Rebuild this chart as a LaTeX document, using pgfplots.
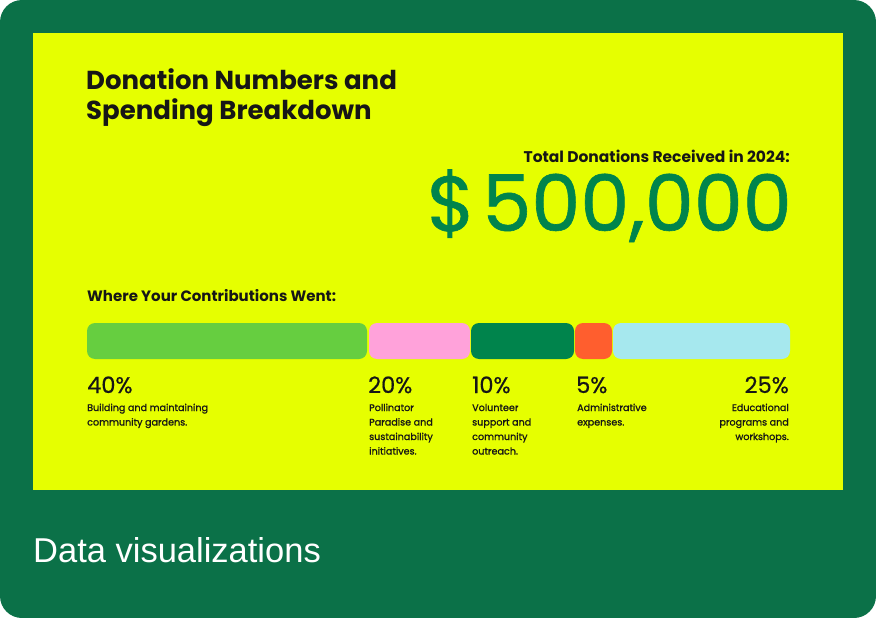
\documentclass[border=0pt]{standalone}
\usepackage{pgfplots}
\pgfplotsset{compat=1.18}
\usepackage{fontspec}
\setmainfont{Poppins}
\newfontfamily\footfont{Liberation Sans}
\definecolor{frame}{RGB}{11,113,72}
\definecolor{panel}{RGB}{230,255,0}
\definecolor{money}{RGB}{0,132,76}
\definecolor{cA}{RGB}{102,206,64}
\definecolor{cB}{RGB}{255,162,218}
\definecolor{cC}{RGB}{0,132,76}
\definecolor{cD}{RGB}{255,94,46}
\definecolor{cE}{RGB}{166,232,238}
\definecolor{ink}{RGB}{22,22,22}
\begin{document}
\begin{tikzpicture}[x=1pt,y=1pt]
\useasboundingbox (0,0) rectangle (876,-618);
\fill[frame, rounded corners=22pt] (0,0) rectangle (876,-618);
\fill[panel] (33,-33) rectangle (843,-490);
% title
\node[anchor=base west, inner sep=0, text=ink, font=\bfseries\fontsize{26}{28}\selectfont] at (86,-90) {Donation Numbers and};
\node[anchor=base west, inner sep=0, text=ink, font=\bfseries\fontsize{26}{28}\selectfont] at (86,-119) {Spending Breakdown};
% total
\node[anchor=base east, inner sep=0, text=ink, font=\bfseries\fontsize{15.5}{17}\selectfont] at (790,-162) {Total Donations Received in 2024:};
\node[anchor=base east, inner sep=0, text=money, font=\fontsize{78}{84}\selectfont\addfontfeatures{FakeBold=0.8}] at (792,-231) {\$\kern7pt500,000};
% where
\node[anchor=base west, inner sep=0, text=ink, font=\bfseries\fontsize{15}{17}\selectfont] at (87,-301) {Where Your Contributions Went:};
% bar
\begin{axis}[at={(87pt,-359pt)}, anchor=south west, width=703pt, height=36pt, scale only axis, hide axis,
  xmin=0, xmax=703, ymin=0, ymax=1, clip=false]
\addplot[fill=cA, draw=none, rounded corners=8pt] coordinates {(0,0) (280,0) (280,1) (0,1)} -- cycle;
\addplot[fill=cB, draw=none, rounded corners=8pt] coordinates {(282,0) (383,0) (383,1) (282,1)} -- cycle;
\addplot[fill=cC, draw=none, rounded corners=8pt] coordinates {(384,0) (487,0) (487,1) (384,1)} -- cycle;
\addplot[fill=cD, draw=none, rounded corners=8pt] coordinates {(488,0) (525,0) (525,1) (488,1)} -- cycle;
\addplot[fill=cE, draw=none, rounded corners=8pt] coordinates {(526,0) (703,0) (703,1) (526,1)} -- cycle;
\end{axis}
% percentages
\tikzset{pct/.style={inner sep=0, text=ink, font=\fontsize{22.5}{24}\selectfont\addfontfeatures{FakeBold=0.6}},
 dsc/.style={inner sep=0, text=ink, font=\fontsize{9.6}{11}\selectfont\addfontfeatures{FakeBold=1}}}
\node[pct, anchor=base west] at (87,-393) {40\%};
\node[pct, anchor=base west] at (368,-393) {20\%};
\node[pct, anchor=base west] at (472,-393) {10\%};
\node[pct, anchor=base west] at (576,-393) {5\%};
\node[pct, anchor=base east] at (789,-393) {25\%};
% descriptions
\node[dsc, anchor=base west] at (87,-411) {Building and maintaining};
\node[dsc, anchor=base west] at (87,-425.5) {community gardens.};
\node[dsc, anchor=base west] at (369,-411) {Pollinator};
\node[dsc, anchor=base west] at (369,-425.5) {Paradise and};
\node[dsc, anchor=base west] at (369,-440) {sustainability};
\node[dsc, anchor=base west] at (369,-454.5) {initiatives.};
\node[dsc, anchor=base west] at (472,-411) {Volunteer};
\node[dsc, anchor=base west] at (472,-425.5) {support and};
\node[dsc, anchor=base west] at (472,-440) {community};
\node[dsc, anchor=base west] at (472,-454.5) {outreach.};
\node[dsc, anchor=base west] at (577,-411) {Administrative};
\node[dsc, anchor=base west] at (577,-425.5) {expenses.};
\node[dsc, anchor=base east] at (789,-411) {Educational};
\node[dsc, anchor=base east] at (789,-425.5) {programs and};
\node[dsc, anchor=base east] at (789,-440) {workshops.};
% footer
\node[anchor=base west, inner sep=0, text=white, font=\footfont\fontsize{34.5}{37}\selectfont] at (33,-562) {Data visualizations};
\end{tikzpicture}
\end{document}
